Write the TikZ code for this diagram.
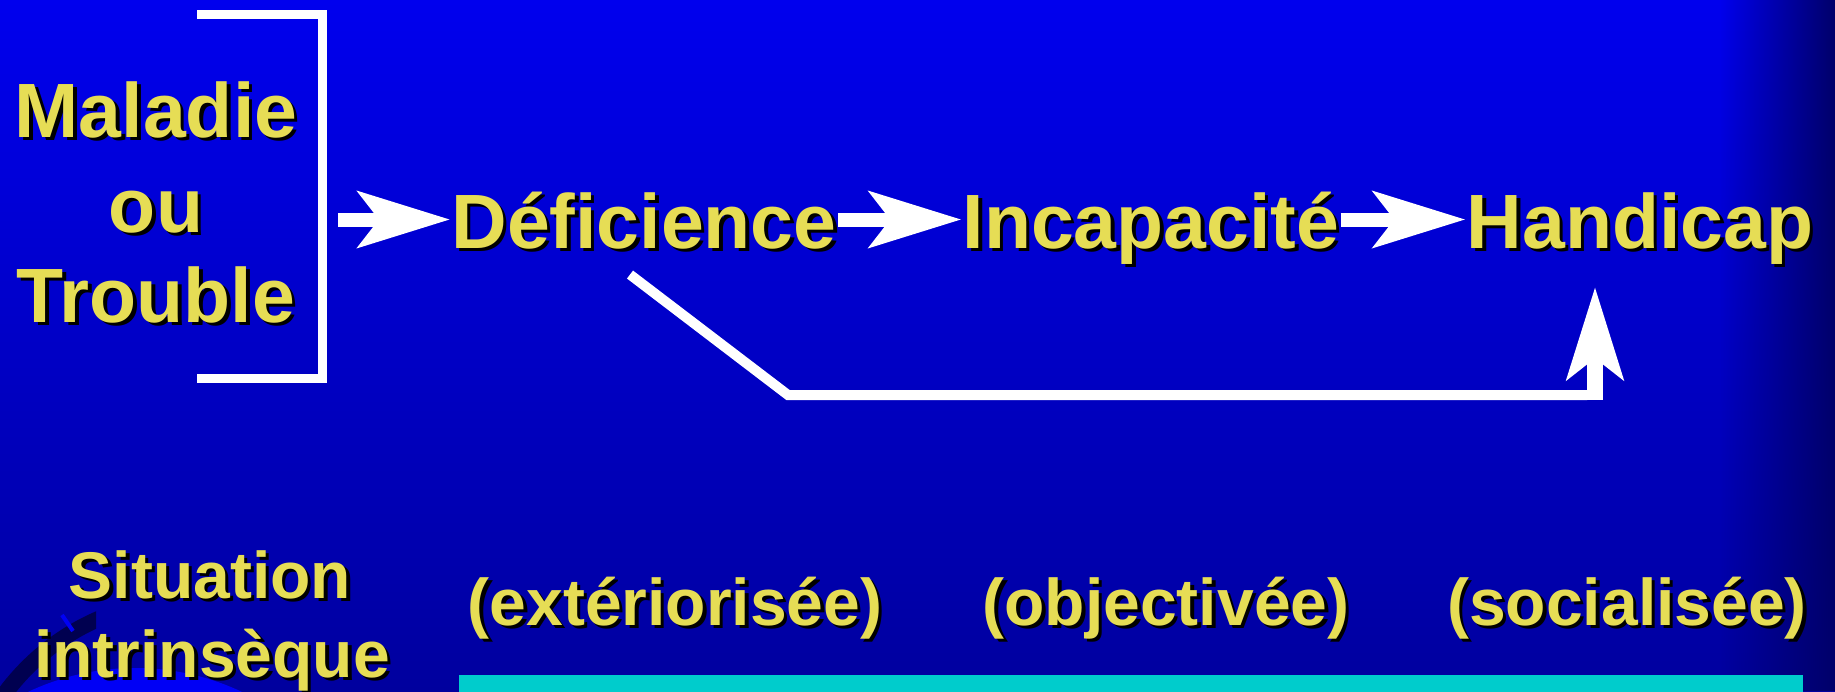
\documentclass[tikz,border=0pt]{standalone}
\usepackage{fontspec}
\setmainfont{Liberation Sans}
\usepackage{tikz}
\usetikzlibrary{arrows.meta, positioning, fadings}
\definecolor{slideblue}{HTML}{0000EE}
\definecolor{slidebluedark}{HTML}{00009E}
\definecolor{slidenavy}{HTML}{00006A}
\definecolor{slideyellow}{HTML}{E6DD55}
\definecolor{slidecyan}{HTML}{00CCCC}
\definecolor{globeblue}{HTML}{0000F5}
\definecolor{globering}{HTML}{000050}
\newcommand{\shd}[1]{\rlap{\kern1.7pt\raisebox{-1.7pt}{\color{black}#1}}#1}
\tikzfading[name=fadeedge, left color=transparent!100, right color=transparent!0]

\begin{document}
\begin{tikzpicture}[x=0.5pt, y=-0.5pt,
  bigword/.style={text=slideyellow, font=\fontsize{38.5}{46}\selectfont\bfseries, anchor=base, inner xsep=0.5pt, inner ysep=0pt},
  smallword/.style={text=slideyellow, font=\fontsize{33}{40}\selectfont\bfseries, anchor=base, inner sep=0pt},
  flow/.style={draw=white, line width=7pt, -{Stealth[length=46pt, width=28pt, inset=10.5pt]}},
  fbline/.style={draw=white, line width=5pt},
  bracketline/.style={draw=white, line width=4.5pt}
]
\clip (0,0) rectangle (1835,691);
\shade[top color=slideblue, bottom color=slidebluedark] (0,0) rectangle (1835,691);
\fill[slidenavy, path fading=fadeedge] (1720,0) rectangle (1835,691);

\begin{scope}
\clip (0,600) rectangle (96,691);
\draw[globering, line width=8pt] (190,830) circle[radius=115pt];
\end{scope}
\fill[globeblue] (135,919) circle[radius=125.5pt];
\draw[globeblue, line width=2pt] (62,615) -- (73,631);

\draw[bracketline] (197,14.5) -- (322,14.5) -- (322,378) -- (197,378);

\node[bigword] (maladie) at (156,137) {\shd{Maladie}};
\node[bigword] (ou) at (156,232) {\shd{ou}};
\node[bigword] (trouble) at (156,322) {\shd{Trouble}};
\coordinate (brk) at (338,219.5);
\node[bigword] (def) at (644,248) {\shd{Déficience}};
\node[bigword] (inc) at (1151,248) {\shd{Incapacité}};
\node[bigword] (hand) at (1640,248) {\shd{Handicap}};

\draw[flow] (brk) -- (def.west |- brk);
\draw[flow] (def.east |- brk) -- (inc.west |- brk);
\draw[flow] (inc.east |- brk) -- (hand.west |- brk);

\coordinate (fb1) at (788,395);
\coordinate (fb2) at (1587,395);
\coordinate (fb3) at (1595,400);
\coordinate (fbtip) at (1595,287);
\draw[fbline] ([xshift=-7pt, yshift=-11pt]def.south) -- (fb1) -- (fb2);
\draw[flow, line width=8pt] (fb3) -- (fbtip);

\node[smallword] (sit) at (210,598) {\shd{Situation}};
\node[smallword] (intr) at (212,677) {\shd{intrinsèque}};
\node[smallword] (ext) at (675,625) {\shd{(extériorisée)}};
\node[smallword] (obj) at (1166,625) {\shd{(objectivée)}};
\node[smallword] (soc) at (1627,625) {\shd{(socialisée)}};
\fill[slidecyan] (459,675) rectangle (1803,700);
\end{tikzpicture}
\end{document}
